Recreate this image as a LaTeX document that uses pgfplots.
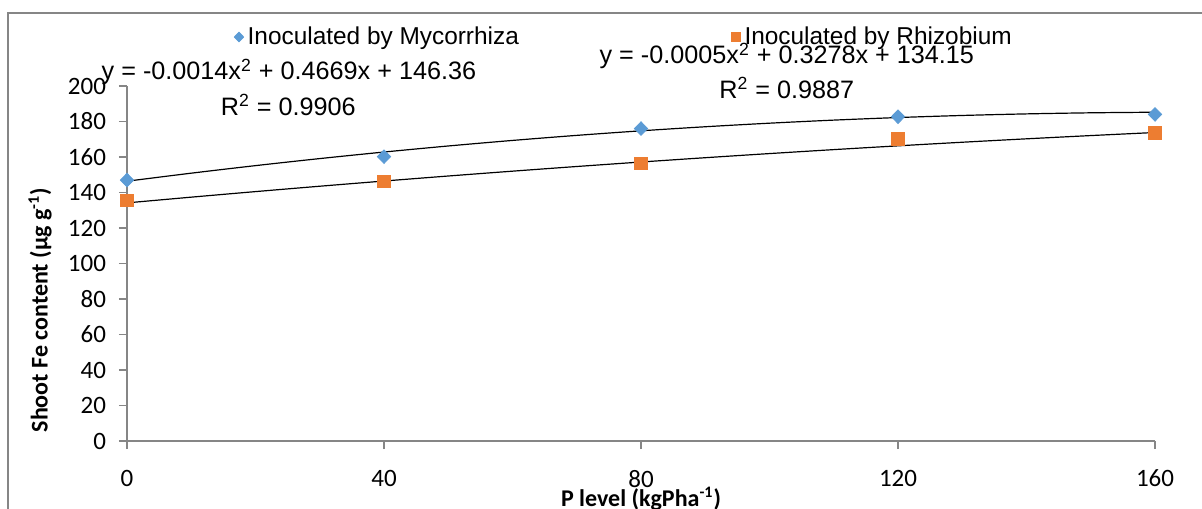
\documentclass[border=0pt]{standalone}
\usepackage{pgfplots}
\pgfplotsset{compat=1.18}
\usepackage{fontspec}
\setmainfont{Carlito}
\newfontfamily\arialf{Liberation Sans}
\definecolor{myblue}{HTML}{5B9BD5}
\definecolor{myorange}{HTML}{ED7D31}
\definecolor{axgray}{HTML}{868686}
\begin{document}
\begin{tikzpicture}
\begin{axis}[
  at={(0pt,0pt)}, anchor=south west,
  scale only axis, width=514pt, height=177.5pt,
  xmin=0, xmax=160, ymin=0, ymax=200,
  xtick={0,40,80,120,160}, ytick={0,20,...,200},
  axis x line*=bottom, axis y line*=left,
  axis line style={axgray, line width=0.6pt},
  tick style={axgray, line width=0.6pt},
  tick align=outside, major tick length=4pt,
  /pgf/number format/assume math mode=true,
  ticklabel style={font=\fontsize{12.5}{14}\selectfont},
  xticklabel style={yshift=-7pt},
  yticklabel style={xshift=-3pt},
  clip=false,
  xlabel={\textbf{P level (kgPha\textsuperscript{-1})}},
  xlabel style={at={(axis description cs:0.5,0)}, anchor=center, yshift=-29pt, font=\fontsize{12}{14}\selectfont},
  ylabel={\textbf{Shoot Fe content (µg g\textsuperscript{-1})}},
  ylabel style={at={(axis description cs:-0.0846,0.369)}, anchor=center, font=\fontsize{12}{14}\selectfont},
  legend columns=2,
  legend style={at={(rel axis cs:0.104,1.138)}, anchor=west, draw=none, fill=none, inner sep=0pt,
    font=\arialf\fontsize{12.2}{14}\selectfont,
    /tikz/every even column/.append style={column sep=104pt}},
  legend image code/.code={\draw[#1, mark size=2.4pt] plot coordinates {(2pt,0pt)};},
]
\addplot[only marks, mark=diamond*, mark size=3.4pt, color=myblue, mark options={fill=myblue, xscale=1.3}]
  coordinates {(0,147) (40,160.2) (80,176) (120,182.7) (160,184)};
\addlegendentry{Inoculated by Mycorrhiza}
\addplot[only marks, mark=square*, mark size=3.1pt, color=myorange, mark options={fill=myorange}]
  coordinates {(0,135.6) (40,146.3) (80,156.5) (120,170.2) (160,173.5)};
\addlegendentry{Inoculated by Rhizobium}
\addplot[black, line width=0.6pt, smooth, forget plot] coordinates {
 (0,146.36) (10,150.889) (20,155.138) (30,159.107) (40,162.796) (50,166.205)
 (60,169.334) (70,172.183) (80,174.752) (90,177.041) (100,179.05) (110,180.779)
 (120,182.228) (130,183.397) (140,184.286) (150,184.895) (160,185.224)};
\addplot[black, line width=0.6pt, smooth, forget plot] coordinates {
 (0,134.15) (10,137.378) (20,140.506) (30,143.534) (40,146.462) (50,149.29)
 (60,152.018) (70,154.646) (80,157.174) (90,159.602) (100,161.93) (110,164.158)
 (120,166.286) (130,168.314) (140,170.242) (150,172.07) (160,173.798)};
\node[font=\arialf\fontsize{12.6}{14}\selectfont, anchor=center] at (axis cs:25.2,207.9)
  {y = -0.0014x\textsuperscript{2} + 0.4669x + 146.36};
\node[font=\arialf\fontsize{12.6}{14}\selectfont, anchor=center] at (axis cs:25.1,189.3)
  {R\textsuperscript{2} = 0.9906};
\node[font=\arialf\fontsize{12.6}{14}\selectfont, anchor=center] at (axis cs:102.7,216.9)
  {y = -0.0005x\textsuperscript{2} + 0.3278x + 134.15};
\node[font=\arialf\fontsize{12.6}{14}\selectfont, anchor=center] at (axis cs:102.7,198.9)
  {R\textsuperscript{2} = 0.9887};
\end{axis}
\draw[axgray, line width=0.6pt] (-59.5pt,-40pt) -- (-59.5pt,214pt) -- (545pt,214pt);
\pgfresetboundingbox
\useasboundingbox (-63.5pt,-33.5pt) rectangle (537.5pt,220.5pt);
\end{tikzpicture}
\end{document}
